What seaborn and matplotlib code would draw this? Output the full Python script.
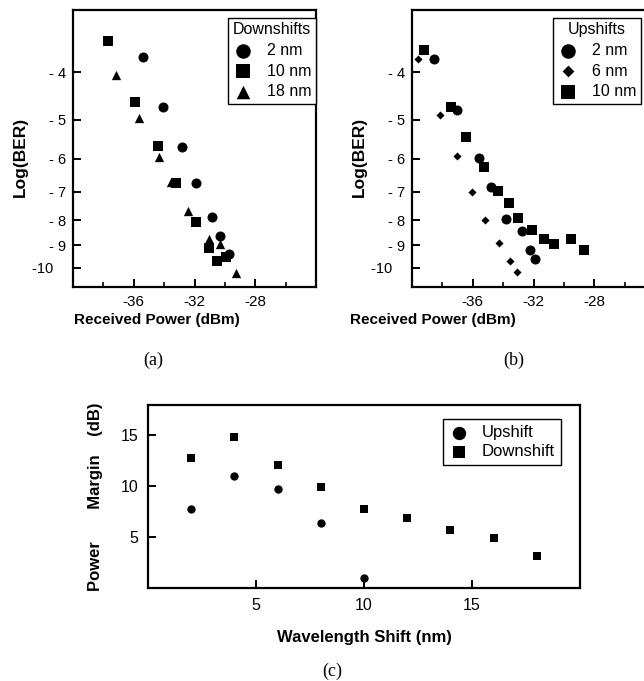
import numpy as np
import pandas as pd
import seaborn as sns
import matplotlib.pyplot as plt
from matplotlib.ticker import NullLocator

sns.set_style('ticks')
plt.rcParams['font.family'] = ['Liberation Sans', 'DejaVu Sans']
plt.rcParams['axes.linewidth'] = 1.6
plt.rcParams['axes.unicode_minus'] = False
for k in ['text.color', 'axes.labelcolor', 'xtick.color', 'ytick.color', 'axes.edgecolor']:
    plt.rcParams[k] = 'black'

# ---- panel (a): downshifts, received power (dBm) vs log(BER)
a2_x = [-35.4, -34.07, -32.82, -31.93, -30.84, -30.33, -29.71]
a2_y = [-3.73, -4.70, -5.69, -6.71, -7.86, -8.61, -9.35]
a10_x = [-37.71, -35.93, -34.42, -33.22, -31.89, -31.05, -30.55, -29.93]
a10_y = [-3.46, -4.60, -5.65, -6.71, -8.05, -9.10, -9.66, -9.51]
a18_x = [-37.16, -35.67, -34.31, -33.53, -32.42, -31.05, -30.33, -29.29]
a18_y = [-4.05, -4.96, -5.94, -6.70, -7.65, -8.75, -8.96, -10.23]

# ---- panel (b): upshifts
b2_x = [-38.56, -37.04, -35.62, -34.78, -33.80, -32.78, -32.24, -31.89]
b2_y = [-3.77, -4.78, -5.98, -6.84, -7.96, -8.42, -9.18, -9.59]
b6_x = [-39.62, -38.18, -37.04, -36.07, -35.18, -34.27, -33.56, -33.11]
b6_y = [-3.77, -4.89, -5.93, -7.00, -7.99, -8.91, -9.69, -10.17]
b10_x = [-39.22, -37.44, -36.47, -35.27, -34.33, -33.62, -33.00, -32.11, -31.33, -30.64, -29.51, -28.67]
b10_y = [-3.60, -4.71, -5.43, -6.24, -6.97, -7.39, -7.91, -8.39, -8.75, -8.93, -8.74, -9.18]

# ---- panel (c): power margin vs wavelength shift
up_shift = [2, 4, 6, 8, 10]
up_margin = [7.78, 11.05, 9.77, 6.37, 1.0]
down_shift = [2, 4, 6, 8, 10, 12, 14, 16, 18]
down_margin = [12.78, 14.9, 12.12, 9.9, 7.81, 6.9, 5.66, 4.87, 3.14]

ber_ticks = [-4, -5, -6, -7, -8, -9, -10]
ber_labels = ['- 4', '- 5', '- 6', '- 7', '- 8', '- 9', '-10   ']
pw_major = [-36, -32, -28]
pw_minor = [-38, -34, -30, -26]


def fwd(v):
    return -np.log10(np.clip(-np.asarray(v, dtype=float), 1e-9, None))


def inv(u):
    return -10 ** (-np.asarray(u, dtype=float))


def ber_panel(ax, series, title, label_x, leg_x):
    for xs, ys, mk, sz, lab in series:
        df = pd.DataFrame({'p': xs, 'b': ys})
        sns.scatterplot(data=df, x='p', y='b', marker=mk, color='black', s=sz,
                        linewidth=0, label=lab, ax=ax)
    ax.set_yscale('function', functions=(fwd, inv))
    ax.set_ylim(-10.93, -2.99)
    ax.set_xlim(-40, -24)
    ax.set_yticks(ber_ticks, labels=ber_labels)
    ax.yaxis.set_minor_locator(NullLocator())
    ax.set_xticks(pw_major)
    ax.set_xticks(pw_minor, minor=True)
    ax.tick_params(axis='both', which='major', direction='in', length=6, width=1.4,
                   labelsize=11, pad=6)
    ax.tick_params(axis='x', which='minor', direction='in', length=3.5, width=1.2)
    ax.tick_params(axis='y', which='major', pad=5, labelsize=10.5)
    ax.set_xlabel('Received Power (dBm)', fontsize=11, fontweight='bold')
    ax.set_ylabel('Log(BER)', fontsize=12.5, fontweight='bold')
    ax.xaxis.set_label_coords(label_x, -0.095)
    ax.yaxis.set_label_coords(-0.185, 0.47)
    leg = ax.legend(title=title, loc='upper right', bbox_to_anchor=(leg_x, 0.972),
                    borderaxespad=0, fancybox=False, framealpha=1, edgecolor='black',
                    fontsize=11.5, title_fontsize=11.5, markerscale=1.45,
                    handletextpad=0.9, labelspacing=0.35, borderpad=0.3,
                    handlelength=1.2)
    leg.get_frame().set_linewidth(1.0)


fig = plt.figure(figsize=(6.44, 6.81), dpi=100)
ax_a = fig.add_axes([0.1134, 0.5786, 0.3773, 0.4068])
ax_b = fig.add_axes([0.6398, 0.5786, 0.3773, 0.4068])
ax_c = fig.add_axes([0.2298, 0.1366, 0.6708, 0.2687])

ber_panel(ax_a, [(a2_x, a2_y, 'o', 52, '2 nm'),
                 (a10_x, a10_y, 's', 50, '10 nm'),
                 (a18_x, a18_y, '^', 45, '18 nm')],
          'Downshifts', 0.346, 1.0)
ber_panel(ax_b, [(b2_x, b2_y, 'o', 52, '2 nm'),
                 (b6_x, b6_y, 'D', 17, '6 nm'),
                 (b10_x, b10_y, 's', 50, '10 nm')],
          'Upshifts', 0.942, 0.942)
ax_b.xaxis.set_label_coords(0.086, -0.095)

sns.scatterplot(x=up_shift, y=up_margin, marker='o', color='black', s=36,
                linewidth=0, label='Upshift', ax=ax_c)
sns.scatterplot(x=down_shift, y=down_margin, marker='s', color='black', s=34,
                linewidth=0, label='Downshift', ax=ax_c)
ax_c.set_xlim(0, 20)
ax_c.set_ylim(0, 18)
ax_c.set_xticks([5, 10, 15])
ax_c.set_yticks([5, 10, 15])
ax_c.tick_params(direction='in', length=6, width=1.4, labelsize=11.5, pad=7)
ax_c.set_xlabel('Wavelength Shift (nm)', fontsize=12, fontweight='bold')
ax_c.set_ylabel('Power       Margin    (dB)', fontsize=12, fontweight='bold')
ax_c.xaxis.set_label_coords(0.5, -0.23)
ax_c.yaxis.set_label_coords(-0.105, 0.5)
leg = ax_c.legend(loc='upper right', bbox_to_anchor=(0.956, 0.923), borderaxespad=0,
                  fancybox=False, framealpha=1, edgecolor='black', fontsize=12,
                  markerscale=1.6, handletextpad=0.8, labelspacing=0.25,
                  borderpad=0.35, handlelength=1.2)
leg.get_frame().set_linewidth(1.0)

fig.text(0.238, 1 - 360 / 681, '(a)', family='Liberation Serif', fontsize=13,
         ha='center', va='center')
fig.text(0.797, 1 - 360 / 681, '(b)', family='Liberation Serif', fontsize=13,
         ha='center', va='center')
fig.text(0.516, 1 - 671 / 681, '(c)', family='Liberation Serif', fontsize=13,
         ha='center', va='center')

fig.savefig('out.png', dpi=100)
